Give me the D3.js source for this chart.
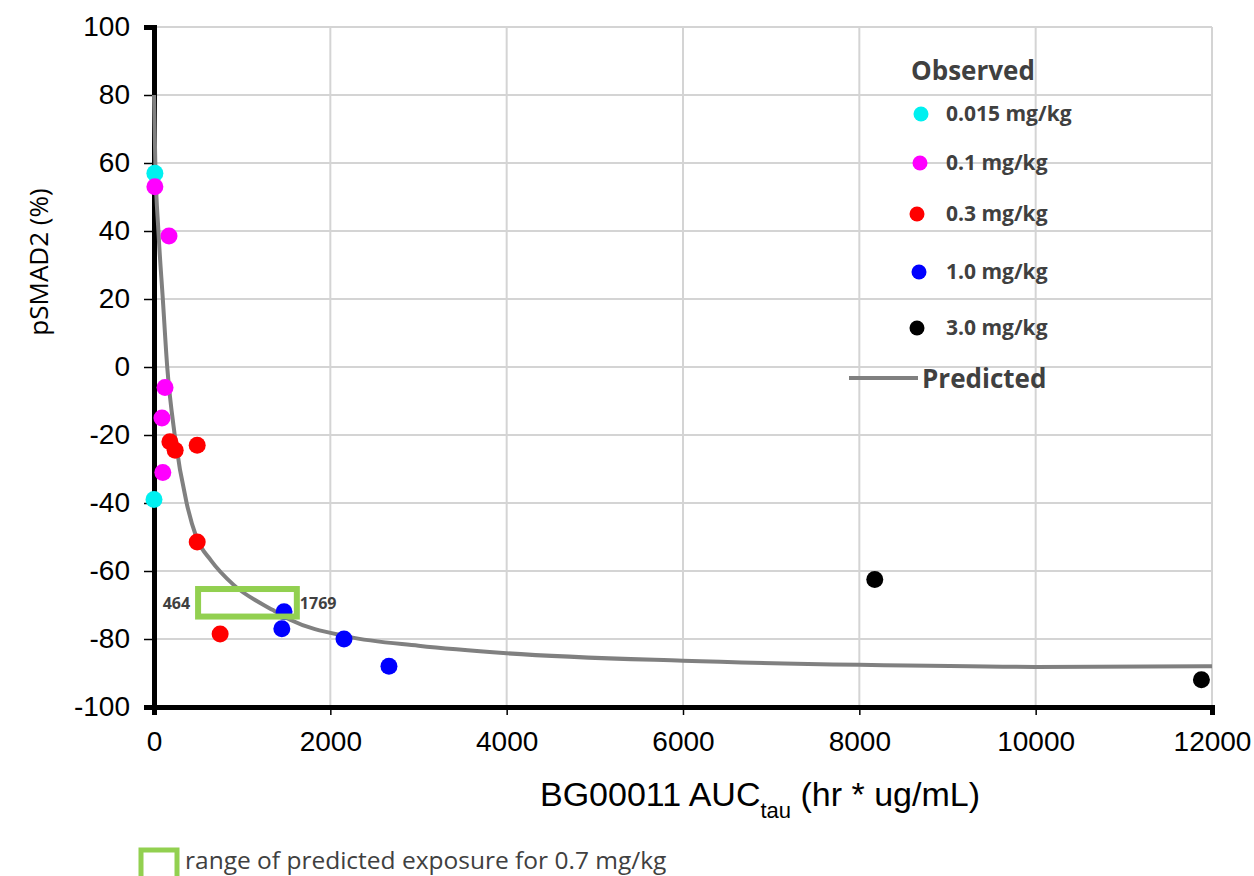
<!DOCTYPE html>
<html lang="en">
<head>
<meta charset="utf-8">
<title>pSMAD2 vs AUC</title>
<script src="https://d3js.org/d3.v7.min.js"></script>
<style>
  body { margin: 0; background: #fff; }
  text { font-family: "Liberation Sans", Arial, sans-serif; }
  .cal { font-family: "Open Sans", "Noto Sans", sans-serif; }
</style>
</head>
<body>
<script>
// observed data, one array per dose group [AUC, pSMAD2 %]
var dose0015 = [[10, 57], [0, -39]];
var dose01 = [[10, 53], [170, 38.5], [125, -6], [90, -15], [100, -31]];
var dose03 = [[180, -22], [240, -24.5], [490, -23], [490, -51.5], [750, -78.5]];
var dose10 = [[1475, -72], [1450, -77], [2155, -80], [2665, -88]];
var dose30 = [[8175, -62.5], [11880, -92]];

var groupNames = ["0.015 mg/kg", "0.1 mg/kg", "0.3 mg/kg", "1.0 mg/kg", "3.0 mg/kg"];
var groupColors = ["#00f0f0", "#ff00ff", "#ff0000", "#0000ff", "#000000"];
var groups = [dose0015, dose01, dose03, dose10, dose30];

// predicted curve
var predicted = [[0, 80], [15, 60], [50, 40], [100, 20], [150, 0], [235, -20], [370, -40],
  [480, -50], [650, -57], [900, -64], [1350, -71.5], [1550, -74.4], [2200, -79.3],
  [3000, -82], [4000, -84.2], [6000, -86.4], [8000, -87.6], [10000, -88.2], [12000, -88]];

// predicted exposure range for 0.7 mg/kg
var boxX = [500, 1620];
var boxY = [-73.4, -65.3];
var boxLabels = ["464", "1769"];

var xTicks = [0, 2000, 4000, 6000, 8000, 10000, 12000];
var yTicks = [-100, -80, -60, -40, -20, 0, 20, 40, 60, 80, 100];

var w = 1254, h = 876;
var svg = d3.select("body").append("svg").attr("width", w).attr("height", h);

var x = d3.scaleLinear().domain([0, 12000]).range([154, 1212]);
var y = d3.scaleLinear().domain([-100, 100]).range([707, 27]);

// grid
svg.append("g").selectAll("line").data(yTicks).enter().append("line")
  .attr("x1", x(0)).attr("x2", x(12000))
  .attr("y1", function(d) { return y(d); }).attr("y2", function(d) { return y(d); })
  .attr("stroke", "#d4d4d4").attr("stroke-width", 2);
svg.append("g").selectAll("line").data(xTicks.slice(1)).enter().append("line")
  .attr("y1", y(-100)).attr("y2", y(100))
  .attr("x1", function(d) { return x(d); }).attr("x2", function(d) { return x(d); })
  .attr("stroke", "#d4d4d4").attr("stroke-width", 2);

// axes
var yAxis = svg.append("g").attr("transform", "translate(" + x(0) + ",0)")
  .call(d3.axisLeft(y).tickValues(yTicks).tickSize(10).tickPadding(14)
    .tickFormat(function(d) { return String(d); }));
var xAxis = svg.append("g").attr("transform", "translate(0," + y(-100) + ")")
  .call(d3.axisBottom(x).tickValues(xTicks).tickSize(8).tickPadding(16).tickFormat(d3.format("d")));
[yAxis, xAxis].forEach(function(a) {
  a.select(".domain").attr("stroke", "#000").attr("stroke-width", 5);
  a.selectAll(".tick line").attr("stroke", "#000").attr("stroke-width", 1.5);
  a.selectAll(".tick text").attr("fill", "#000").style("font-size", "28px")
    .style("font-family", "Liberation Sans, Arial, sans-serif");
});

// predicted curve
var line = d3.line().x(function(d) { return x(d[0]); }).y(function(d) { return y(d[1]); })
  .curve(d3.curveMonotoneX);
svg.append("path").datum(predicted)
  .attr("fill", "none").attr("stroke", "#808080").attr("stroke-width", 4).attr("d", line);

// dots
groups.forEach(function(g, i) {
  svg.append("g").selectAll("circle").data(g).enter().append("circle")
    .attr("cx", function(d) { return x(d[0]); })
    .attr("cy", function(d) { return y(d[1]); })
    .attr("r", 8.5).attr("fill", groupColors[i]);
});

// green range box
svg.append("rect")
  .attr("x", x(boxX[0])).attr("y", y(boxY[1]))
  .attr("width", x(boxX[1]) - x(boxX[0])).attr("height", y(boxY[0]) - y(boxY[1]))
  .attr("fill", "none").attr("stroke", "#92d050").attr("stroke-width", 6);
svg.append("text").attr("class", "cal").attr("x", x(boxX[0]) - 8).attr("y", y((boxY[0] + boxY[1]) / 2) + 6)
  .attr("text-anchor", "end").style("font-size", "16px").style("font-weight", "bold")
  .attr("fill", "#404040").text(boxLabels[0]);
svg.append("text").attr("class", "cal").attr("x", x(boxX[1]) + 3).attr("y", y((boxY[0] + boxY[1]) / 2) + 6)
  .style("font-size", "16px").style("font-weight", "bold")
  .attr("fill", "#404040").text(boxLabels[1]);

// axis titles
svg.append("text").attr("class", "cal")
  .attr("transform", "translate(48,262) rotate(-90)")
  .attr("text-anchor", "middle").style("font-size", "26px").attr("fill", "#000")
  .text("pSMAD2 (%)");
var xt = svg.append("text").attr("x", 760).attr("y", 806).attr("text-anchor", "middle")
  .style("font-size", "34px").attr("fill", "#000");
xt.append("tspan").text("BG00011 AUC");
xt.append("tspan").attr("dy", 12).style("font-size", "22px").text("tau");
xt.append("tspan").attr("dy", -12).text(" (hr * ug/mL)");

// legend
svg.append("text").attr("class", "cal").attr("x", 911).attr("y", 80)
  .style("font-size", "26px").style("font-weight", "bold").attr("fill", "#404040").text("Observed");
var legY = [114, 163, 214, 272, 328];
var legDotX = [921, 920, 917, 919, 917];
groupNames.forEach(function(n, i) {
  svg.append("circle").attr("cx", legDotX[i]).attr("cy", legY[i]).attr("r", 7.5).attr("fill", groupColors[i]);
  svg.append("text").attr("class", "cal").attr("x", 946).attr("y", legY[i] + 7)
    .style("font-size", "21px").style("font-weight", "bold").attr("fill", "#404040").text(n);
});
svg.append("line").attr("x1", 849).attr("x2", 918).attr("y1", 378).attr("y2", 378)
  .attr("stroke", "#808080").attr("stroke-width", 4);
svg.append("text").attr("class", "cal").attr("x", 922).attr("y", 388)
  .style("font-size", "26px").style("font-weight", "bold").attr("fill", "#404040").text("Predicted");

// bottom key
svg.append("rect").attr("x", 141).attr("y", 850).attr("width", 36).attr("height", 32)
  .attr("fill", "none").attr("stroke", "#92d050").attr("stroke-width", 5);
svg.append("text").attr("class", "cal").attr("x", 185).attr("y", 869)
  .style("font-size", "24.5px").attr("fill", "#404040")
  .text("range of predicted exposure for 0.7 mg/kg");
</script>
</body>
</html>
